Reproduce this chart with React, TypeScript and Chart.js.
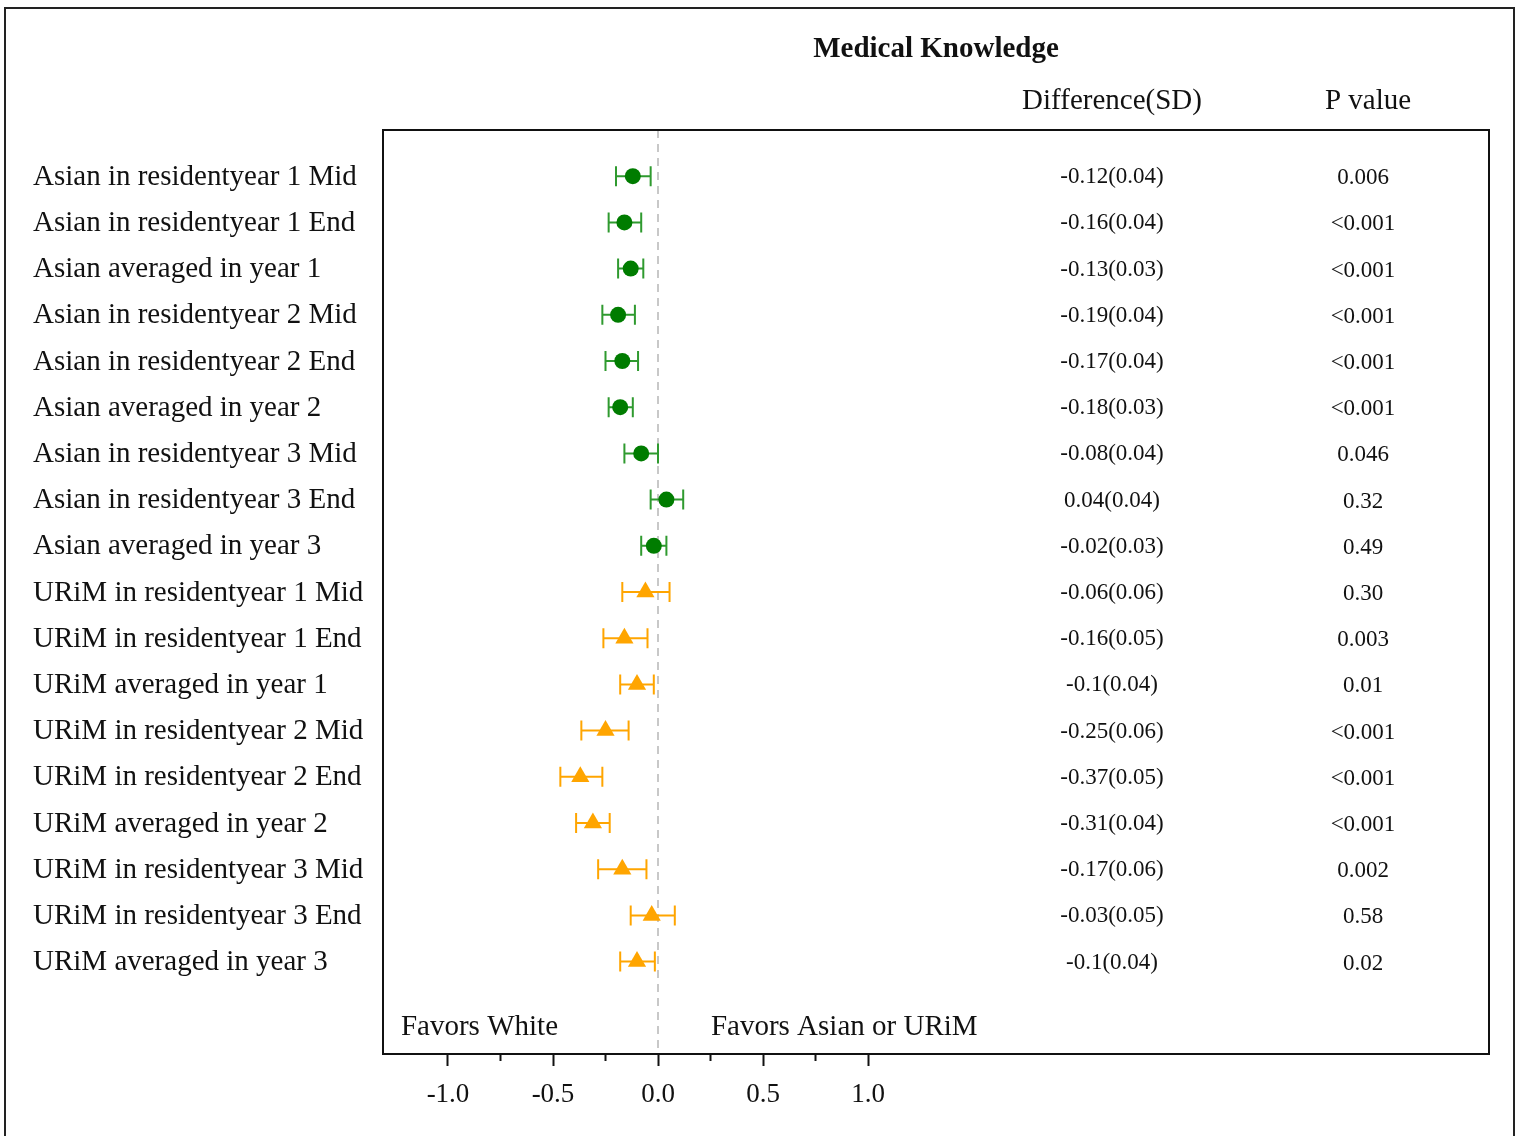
import React, { useEffect, useRef } from "react";
import { Chart, registerables } from "chart.js";

Chart.register(...registerables);

const rowLabels = [
  "Asian in residentyear 1 Mid",
  "Asian in residentyear 1 End",
  "Asian averaged in year 1",
  "Asian in residentyear 2 Mid",
  "Asian in residentyear 2 End",
  "Asian averaged in year 2",
  "Asian in residentyear 3 Mid",
  "Asian in residentyear 3 End",
  "Asian averaged in year 3",
  "URiM in residentyear 1 Mid",
  "URiM in residentyear 1 End",
  "URiM averaged in year 1",
  "URiM in residentyear 2 Mid",
  "URiM in residentyear 2 End",
  "URiM averaged in year 2",
  "URiM in residentyear 3 Mid",
  "URiM in residentyear 3 End",
  "URiM averaged in year 3",
];

const estimates = [-0.12, -0.16, -0.13, -0.19, -0.17, -0.18, -0.08, 0.04, -0.02, -0.06, -0.16, -0.1, -0.25, -0.37, -0.31, -0.17, -0.03, -0.1];
const lowerCI = [-0.2, -0.235, -0.19, -0.265, -0.25, -0.235, -0.16, -0.035, -0.08, -0.17, -0.26, -0.18, -0.365, -0.465, -0.39, -0.285, -0.13, -0.18];
const upperCI = [-0.035, -0.08, -0.07, -0.11, -0.095, -0.12, 0.0, 0.12, 0.04, 0.055, -0.05, -0.02, -0.14, -0.265, -0.23, -0.055, 0.08, -0.015];
const diffText = ["-0.12(0.04)", "-0.16(0.04)", "-0.13(0.03)", "-0.19(0.04)", "-0.17(0.04)", "-0.18(0.03)", "-0.08(0.04)", "0.04(0.04)", "-0.02(0.03)", "-0.06(0.06)", "-0.16(0.05)", "-0.1(0.04)", "-0.25(0.06)", "-0.37(0.05)", "-0.31(0.04)", "-0.17(0.06)", "-0.03(0.05)", "-0.1(0.04)"];
const pText = ["0.006", "<0.001", "<0.001", "<0.001", "<0.001", "<0.001", "0.046", "0.32", "0.49", "0.30", "0.003", "0.01", "<0.001", "<0.001", "<0.001", "0.002", "0.58", "0.02"];
const groupOf = ["Asian", "Asian", "Asian", "Asian", "Asian", "Asian", "Asian", "Asian", "Asian", "URiM", "URiM", "URiM", "URiM", "URiM", "URiM", "URiM", "URiM", "URiM"];
const majorTicks = [-1.0, -0.5, 0.0, 0.5, 1.0];
const minorTicks = [-0.75, -0.25, 0.25, 0.75];

const GREEN = "#007c00";
const GREEN_BAR = "#2f9a2f";
const ORANGE = "#ffa500";
const FONT = "'Liberation Serif', 'Times New Roman', serif";

export default function App() {
  const ref = useRef<HTMLCanvasElement | null>(null);

  useEffect(() => {
    const canvas = ref.current;
    if (!canvas) return;

    const asianPts: any[] = [];
    const urimPts: any[] = [];
    estimates.forEach((v, i) => {
      (groupOf[i] === "Asian" ? asianPts : urimPts).push({ x: v, y: i });
    });

    const forestPlugin = {
      id: "forest",
      beforeDraw(chart: any) {
        const ctx = chart.ctx;
        ctx.save();
        ctx.fillStyle = "#ffffff";
        ctx.fillRect(0, 0, chart.width, chart.height);
        ctx.strokeStyle = "#222";
        ctx.lineWidth = 2;
        ctx.strokeRect(5, 8, 1509, 1140);
        ctx.restore();
      },
      beforeDatasetsDraw(chart: any) {
        const ctx = chart.ctx;
        const xs = chart.scales.x;
        const ys = chart.scales.y;
        const a = chart.chartArea;
        ctx.save();
        // zero reference line
        ctx.strokeStyle = "#c8c8c8";
        ctx.lineWidth = 2;
        ctx.setLineDash([8, 6]);
        const x0 = xs.getPixelForValue(0);
        ctx.beginPath();
        ctx.moveTo(x0, a.top);
        ctx.lineTo(x0, a.bottom);
        ctx.stroke();
        ctx.setLineDash([]);
        // error bars
        estimates.forEach((_, i) => {
          const y = ys.getPixelForValue(i);
          const xl = xs.getPixelForValue(lowerCI[i]);
          const xu = xs.getPixelForValue(upperCI[i]);
          ctx.strokeStyle = groupOf[i] === "Asian" ? GREEN_BAR : ORANGE;
          ctx.lineWidth = 2;
          ctx.beginPath();
          ctx.moveTo(xl, y);
          ctx.lineTo(xu, y);
          ctx.moveTo(xl, y - 10);
          ctx.lineTo(xl, y + 10);
          ctx.moveTo(xu, y - 10);
          ctx.lineTo(xu, y + 10);
          ctx.stroke();
        });
        ctx.restore();
      },
      afterDraw(chart: any) {
        const ctx = chart.ctx;
        const xs = chart.scales.x;
        const ys = chart.scales.y;
        const a = chart.chartArea;
        ctx.save();
        // plot frame
        ctx.strokeStyle = "#111";
        ctx.lineWidth = 2;
        ctx.strokeRect(a.left, a.top, a.right - a.left, a.bottom - a.top);
        // minor ticks
        ctx.lineWidth = 2;
        ctx.strokeStyle = "#111";
        minorTicks.forEach((t) => {
          const x = xs.getPixelForValue(t);
          ctx.beginPath();
          ctx.moveTo(x, a.bottom);
          ctx.lineTo(x, a.bottom + 7);
          ctx.stroke();
        });
        // row labels
        ctx.fillStyle = "#111";
        ctx.textBaseline = "middle";
        ctx.textAlign = "left";
        ctx.font = `29px ${FONT}`;
        rowLabels.forEach((lab, i) => {
          ctx.fillText(lab, 33, ys.getPixelForValue(i) + 1);
        });
        // columns
        ctx.textAlign = "center";
        ctx.font = `23px ${FONT}`;
        diffText.forEach((t, i) => {
          ctx.fillText(t, 1112, ys.getPixelForValue(i) + 1);
        });
        pText.forEach((t, i) => {
          ctx.fillText(t, 1363, ys.getPixelForValue(i) + 2);
        });
        // headers
        ctx.font = `29px ${FONT}`;
        ctx.fillText("Difference(SD)", 1112, 101);
        ctx.fillText("P value", 1368, 101);
        ctx.font = `bold 29px ${FONT}`;
        ctx.fillText("Medical Knowledge", 936, 50);
        // favors annotations
        ctx.font = `29px ${FONT}`;
        ctx.textAlign = "left";
        const yf = ys.getPixelForValue(18.4) + 1;
        ctx.fillText("Favors White", xs.getPixelForValue(-1.224), yf);
        ctx.fillText("Favors Asian or URiM", xs.getPixelForValue(0.252), yf);
        ctx.restore();
      },
    };

    const chart = new Chart(canvas, {
      type: "scatter",
      data: {
        datasets: [
          {
            label: "Asian",
            data: asianPts,
            backgroundColor: GREEN,
            borderColor: GREEN,
            pointStyle: "circle",
            pointRadius: 8,
            pointBorderWidth: 0,
          },
          {
            label: "URiM",
            data: urimPts,
            backgroundColor: ORANGE,
            borderColor: ORANGE,
            pointStyle: "triangle",
            pointRadius: 10.5,
            pointBorderWidth: 0,
          },
        ],
      },
      options: {
        animation: false,
        responsive: false,
        events: [],
        layout: { padding: { left: 383, top: 130, right: 35, bottom: 0 } },
        plugins: { legend: { display: false }, tooltip: { enabled: false } },
        scales: {
          x: {
            type: "linear",
            min: -1.3095,
            max: 3.957,
            afterBuildTicks: (scale: any) => {
              scale.ticks = majorTicks.map((v) => ({ value: v }));
            },
            afterFit: (scale: any) => {
              scale.height = 82;
            },
            border: { display: false },
            grid: {
              drawOnChartArea: false,
              drawTicks: true,
              tickLength: 12,
              tickWidth: 2,
              tickColor: "#111",
            },
            ticks: {
              color: "#111",
              font: { family: FONT, size: 27 },
              padding: 13,
              maxRotation: 0,
              autoSkip: false,
              callback: (v: any) => Number(v).toFixed(1),
            },
          },
          y: {
            type: "linear",
            min: -1,
            max: 19,
            reverse: true,
            display: false,
          },
        },
      },
      plugins: [forestPlugin],
    });
    return () => chart.destroy();
  }, []);

  return (
    <div style={{ position: "fixed", left: 0, top: 0, width: 1524, height: 1136 }}>
      <canvas ref={ref} width={1524} height={1136} style={{ width: 1524, height: 1136, display: "block" }} />
    </div>
  );
}
